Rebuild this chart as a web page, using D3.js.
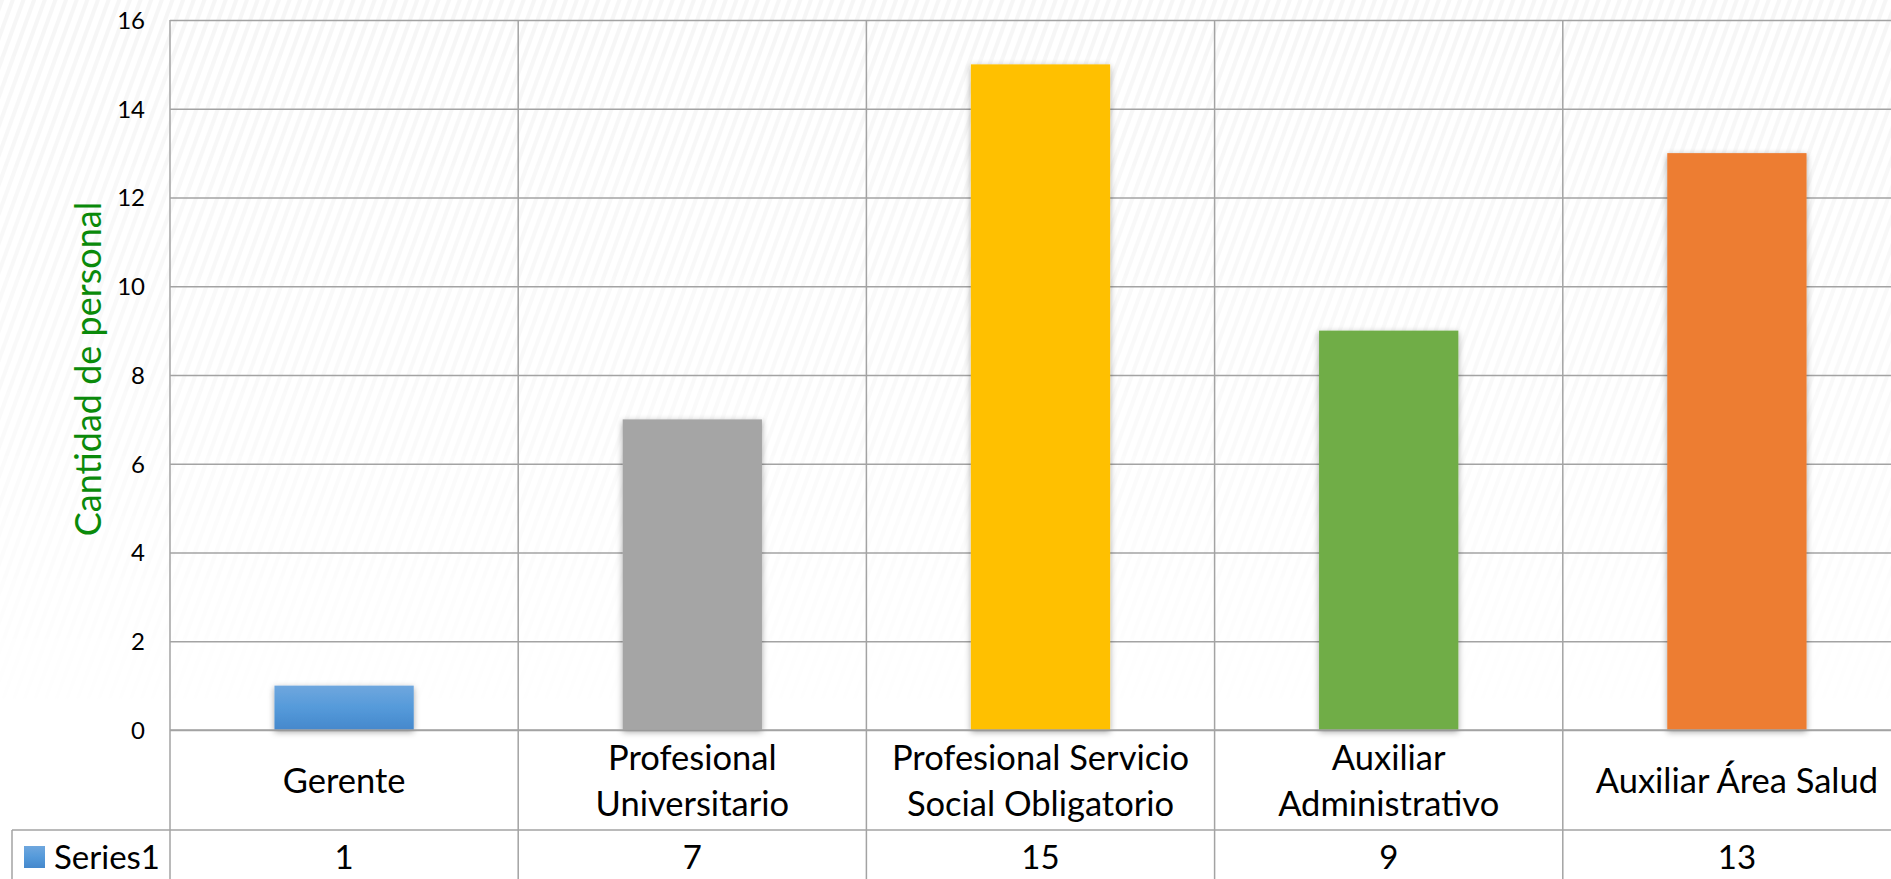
<!DOCTYPE html>
<html>
<head>
<meta charset="utf-8">
<script src="https://cdn.jsdelivr.net/npm/d3@7/dist/d3.min.js"></script>
<style>
  html, body { margin: 0; padding: 0; background: #ffffff; overflow: hidden; }
  svg { display: block; font-family: Lato, "Open Sans", sans-serif; }
</style>
</head>
<body>
<svg id="chart" width="1891" height="879"></svg>
<script>
// ---- data ----
const categories = ["Gerente", "Profesional Universitario", "Profesional Servicio Social Obligatorio", "Auxiliar Administrativo", "Auxiliar Área Salud"];
const values = [1, 7, 15, 9, 13];
const barColors = ["url(#blueGrad)", "#a5a5a5", "#ffc000", "#70ad47", "#ed7d31"];
const yTicks = [0, 2, 4, 6, 8, 10, 12, 14, 16];
const seriesName = "Series1";
const yTitle = "Cantidad de personal";

// ---- layout ----
const W = 1891, H = 879;
const plotLeft = 170, plotRight = 1911, plotTop = 20, plotBottom = 730;
const catRowBottom = 830, tableLeft = 12;
const gridColor = "#a3a3a3";

const svg = d3.select("#chart");
const defs = svg.append("defs");

// blue gradient
const bg = defs.append("linearGradient").attr("id", "blueGrad").attr("x1", 0).attr("y1", 0).attr("x2", 0).attr("y2", 1);
bg.append("stop").attr("offset", "0%").attr("stop-color", "#6fa7de");
bg.append("stop").attr("offset", "50%").attr("stop-color", "#559ada");
bg.append("stop").attr("offset", "100%").attr("stop-color", "#4588cc");

// drop shadow
const f = defs.append("filter").attr("id", "shadow").attr("x", "-20%").attr("y", "-20%").attr("width", "140%").attr("height", "140%");
f.append("feDropShadow").attr("dx", 0).attr("dy", 2).attr("stdDeviation", 3).attr("flood-color", "#000").attr("flood-opacity", 0.35);

// faint stripe texture
const pat = defs.append("pattern").attr("id", "stripes").attr("patternUnits", "userSpaceOnUse")
  .attr("width", 10).attr("height", 10).attr("patternTransform", "rotate(20)");
pat.append("rect").attr("width", 10).attr("height", 10).attr("fill", "#ffffff");
pat.append("rect").attr("x", 0).attr("width", 4).attr("height", 10).attr("fill", "#f6f6f6");
const fadeGrad = defs.append("linearGradient").attr("id", "fadeGrad").attr("x1", 0).attr("y1", 0).attr("x2", 0).attr("y2", 1);
fadeGrad.append("stop").attr("offset", "0%").attr("stop-color", "#fff").attr("stop-opacity", 1);
fadeGrad.append("stop").attr("offset", "55%").attr("stop-color", "#fff").attr("stop-opacity", 0.6);
fadeGrad.append("stop").attr("offset", "100%").attr("stop-color", "#fff").attr("stop-opacity", 0);
const mask = defs.append("mask").attr("id", "fadeMask");
mask.append("rect").attr("x", 0).attr("y", 0).attr("width", W).attr("height", plotBottom).attr("fill", "url(#fadeGrad)");

svg.append("rect").attr("width", W).attr("height", H).attr("fill", "#ffffff");
svg.append("rect").attr("x", 0).attr("y", 0).attr("width", W).attr("height", plotBottom)
  .attr("fill", "url(#stripes)").attr("mask", "url(#fadeMask)");

// ---- scales ----
const xCell = d3.scaleBand().domain(categories).range([plotLeft, plotRight]).padding(0);
const xBar = d3.scaleBand().domain(categories).range([plotLeft, plotRight]).paddingInner(0.6).paddingOuter(0.3);
const y = d3.scaleLinear().domain([0, 16]).range([plotBottom, plotTop]);

// ---- gridlines (horizontal) ----
const yAxis = d3.axisLeft(y).tickValues(yTicks).tickSize(-(plotRight - plotLeft)).tickFormat(d3.format("d"));
const gy = svg.append("g").attr("transform", `translate(${plotLeft},0)`).call(yAxis);
gy.select(".domain").remove();
gy.selectAll(".tick line").attr("stroke", gridColor).attr("stroke-width", 1.5);
gy.selectAll(".tick text").attr("x", -25).attr("dy", "0.35em")
  .attr("font-size", 24).attr("fill", "#000").attr("font-family", "Lato, sans-serif");

// vertical column lines through plot + table
const bounds = categories.map(c => xCell(c)).concat([plotRight]);
svg.append("g").selectAll("line").data(bounds).join("line")
  .attr("x1", d => d).attr("x2", d => d)
  .attr("y1", plotTop).attr("y2", H + 5)
  .attr("stroke", gridColor).attr("stroke-width", 1.5);

// table row line + legend cell edge
svg.append("line").attr("x1", tableLeft).attr("x2", plotRight).attr("y1", catRowBottom).attr("y2", catRowBottom)
  .attr("stroke", gridColor).attr("stroke-width", 1.5);
svg.append("line").attr("x1", tableLeft).attr("x2", tableLeft).attr("y1", catRowBottom).attr("y2", H + 5)
  .attr("stroke", gridColor).attr("stroke-width", 1.5);

// ---- bars ----
svg.append("g").selectAll("rect").data(categories).join("rect")
  .attr("x", d => xBar(d))
  .attr("width", xBar.bandwidth())
  .attr("y", (d, i) => y(values[i]))
  .attr("height", (d, i) => y(0) - y(values[i]))
  .attr("fill", (d, i) => barColors[i])
  .attr("filter", "url(#shadow)");

// redraw baseline on top
svg.append("line").attr("x1", plotLeft).attr("x2", plotRight).attr("y1", y(0)).attr("y2", y(0))
  .attr("stroke", gridColor).attr("stroke-width", 1.5);

// ---- category labels (wrapped) ----
const catFont = 34.5, lineH = 46, catMid = 781;
const catG = svg.append("g").attr("font-size", catFont).attr("fill", "#000").attr("text-anchor", "middle");
categories.forEach(cat => {
  const cx = xCell(cat) + xCell.bandwidth() / 2;
  const maxW = xCell.bandwidth() - 16;
  const t = catG.append("text").attr("x", cx);
  const words = cat.split(" ");
  const lines = [];
  let cur = [];
  const probe = catG.append("text").attr("font-size", catFont);
  words.forEach(w => {
    const test = cur.concat([w]).join(" ");
    probe.text(test);
    if (probe.node().getComputedTextLength() > maxW && cur.length) {
      lines.push(cur.join(" "));
      cur = [w];
    } else cur.push(w);
  });
  lines.push(cur.join(" "));
  probe.remove();
  const n = lines.length;
  lines.forEach((ln, i) => {
    t.append("tspan").attr("x", cx)
      .attr("y", catMid + 12 + (i - (n - 1) / 2) * lineH)
      .text(ln);
  });
});

// ---- value row ----
const valMid = 857;
svg.append("g").selectAll("text").data(categories).join("text")
  .attr("x", d => xCell(d) + xCell.bandwidth() / 2)
  .attr("y", valMid).attr("dy", "0.36em")
  .attr("text-anchor", "middle").attr("font-size", 33).attr("fill", "#000")
  .text((d, i) => values[i]);

// legend key
svg.append("rect").attr("x", 24).attr("y", 846).attr("width", 21).attr("height", 22).attr("fill", "url(#blueGrad)");
svg.append("text").attr("x", 54).attr("y", valMid).attr("dy", "0.36em")
  .attr("font-size", 33).attr("fill", "#000").text(seriesName);

// ---- y title ----
svg.append("text")
  .attr("transform", `translate(101,369) rotate(-90)`)
  .attr("text-anchor", "middle").attr("font-size", 36).attr("fill", "#0a8a0a")
  .text(yTitle);
</script>
</body>
</html>
